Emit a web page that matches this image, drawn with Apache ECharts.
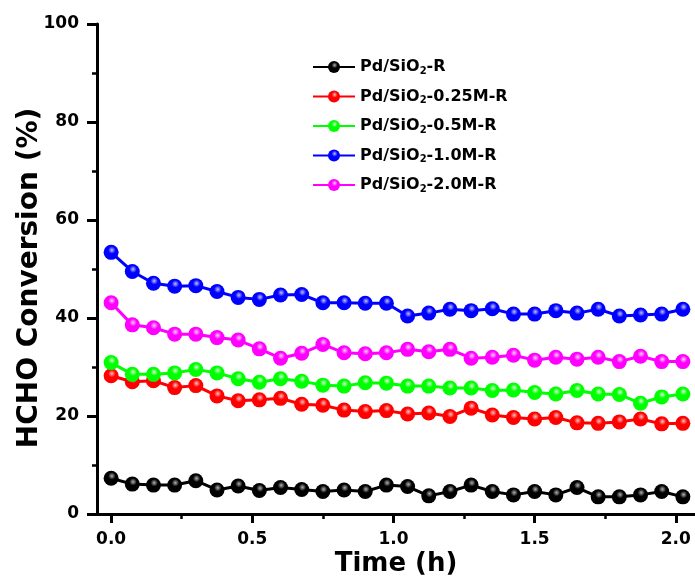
<!DOCTYPE html>
<html>
<head>
<meta charset="utf-8">
<script src="https://cdn.jsdelivr.net/npm/echarts@6/dist/echarts.min.js"></script>
<style>
  html, body { margin: 0; padding: 0; background: #fff; }
  #chart { width: 695px; height: 586px; }
</style>
</head>
<body>
<div id="chart"></div>
<script>
var timeH = [0, 0.075, 0.15, 0.225, 0.3, 0.375, 0.45, 0.525, 0.6, 0.675, 0.75, 0.825, 0.9, 0.975,
             1.05, 1.125, 1.2, 1.275, 1.35, 1.425, 1.5, 1.575, 1.65, 1.725, 1.8, 1.875, 1.95, 2.025];

var seriesNames = ['Pd/SiO2-R', 'Pd/SiO2-0.25M-R', 'Pd/SiO2-0.5M-R', 'Pd/SiO2-1.0M-R', 'Pd/SiO2-2.0M-R'];

var convR = [7.3, 6.1, 5.9, 5.9, 6.8, 4.9, 5.7, 4.8, 5.4, 5.0, 4.6, 4.9, 4.6, 5.9,
             5.6, 3.7, 4.6, 5.9, 4.6, 3.9, 4.6, 3.9, 5.4, 3.5, 3.5, 3.9, 4.6, 3.5];
var conv025 = [28.2, 27.0, 27.2, 25.8, 26.2, 24.1, 23.1, 23.3, 23.6, 22.4, 22.2, 21.2, 20.9, 21.1,
               20.4, 20.6, 19.9, 21.6, 20.2, 19.7, 19.4, 19.7, 18.6, 18.5, 18.8, 19.4, 18.4, 18.5];
var conv05 = [30.9, 28.5, 28.5, 28.8, 29.5, 28.8, 27.6, 26.9, 27.6, 27.1, 26.3, 26.1, 26.8, 26.7,
              26.1, 26.1, 25.7, 25.7, 25.2, 25.3, 24.8, 24.5, 25.2, 24.5, 24.4, 22.6, 23.9, 24.5];
var conv10 = [53.4, 49.5, 47.1, 46.5, 46.6, 45.4, 44.2, 43.8, 44.7, 44.8, 43.1, 43.1, 43.0, 43.0,
              40.4, 41.0, 41.8, 41.5, 41.9, 40.8, 40.8, 41.5, 41.0, 41.8, 40.4, 40.6, 40.8, 41.8];
var conv20 = [43.1, 38.6, 38.0, 36.7, 36.7, 36.0, 35.5, 33.7, 31.8, 32.8, 34.6, 32.9, 32.7, 32.9,
              33.6, 33.1, 33.6, 31.8, 32.0, 32.4, 31.4, 32.0, 31.6, 32.0, 31.1, 32.2, 31.1, 31.1];

var xMajorTicks = [0, 0.5, 1.0, 1.5, 2.0];
var xMinorTicks = [0.25, 0.75, 1.25, 1.75];

var colors = [
    ['#000000', '#b0b0b0'],
    ['#ff0000', '#ffc0c0'],
    ['#00ff00', '#d0ffd0'],
    ['#0000ff', '#c0c0ff'],
    ['#ff00ff', '#ffd0ff']
];
var allData = [convR, conv025, conv05, conv10, conv20];

function ball(c) {
    return {
        type: 'radial', x: 0.55, y: 0.35, r: 0.65,
        colorStops: [
            { offset: 0, color: c[1] },
            { offset: 0.38, color: c[0] },
            { offset: 1, color: c[0] }
        ]
    };
}

var chart = echarts.init(document.getElementById('chart'));

var series = seriesNames.map(function (name, k) {
    return {
        name: name,
        type: 'line',
        xAxisIndex: 0,
        data: timeH.map(function (t, i) { return [t, allData[k][i]]; }),
        symbol: 'circle',
        symbolSize: 15,
        lineStyle: { color: colors[k][0], width: 3 },
        itemStyle: { color: ball(colors[k]), borderWidth: 0 },
        z: 2 + k
    };
});

var FONT = 'DejaVu Sans';
var boldFont = { fontFamily: FONT, fontWeight: 'bold', color: '#000' };
var xMin = -0.05, xMax = 2.068;

var option = {
    backgroundColor: '#fff',
    animation: false,
    color: colors.map(function (c) { return c[0]; }),
    grid: { left: 97, right: 0, top: 24, bottom: 72, outerBoundsMode: 'none', containLabel: false },
    legend: {
        orient: 'vertical',
        left: 307,
        top: 54,
        itemWidth: 42,
        itemHeight: 15,
        itemGap: 12.5,
        data: seriesNames,
        formatter: function (n) { return n.replace('SiO2', 'SiO{sub|2}'); },
        textStyle: {
            fontFamily: FONT, fontWeight: 'bold', fontSize: 16, color: '#000',
            rich: {
                sub: { fontFamily: FONT, fontWeight: 'bold', fontSize: 10, color: '#000', padding: [8, 0, 0, 0] }
            }
        }
    },
    xAxis: [{
        type: 'value',
        min: xMin,
        max: xMax,
        name: 'Time (h)',
        nameLocation: 'middle',
        nameGap: 37,
        nameMoveOverlap: false,
        nameTextStyle: Object.assign({ fontSize: 26 }, boldFont),
        axisLine: { lineStyle: { color: '#000', width: 3 } },
        axisTick: { customValues: xMajorTicks, length: 9, lineStyle: { color: '#000', width: 3 } },
        axisLabel: Object.assign({ customValues: xMajorTicks, fontSize: 17, margin: 17,
            formatter: function (v) { return v.toFixed(1); } }, boldFont),
        splitLine: { show: false }
    }, {
        type: 'value',
        min: xMin,
        max: xMax,
        position: 'bottom',
        axisLine: { show: false },
        axisTick: { customValues: xMinorTicks, length: 5, lineStyle: { color: '#000', width: 2.5 } },
        axisLabel: { show: false },
        splitLine: { show: false }
    }],
    yAxis: {
        type: 'value',
        min: 0,
        max: 100,
        interval: 20,
        name: 'HCHO Conversion (%)',
        nameLocation: 'middle',
        nameGap: 53,
        nameMoveOverlap: false,
        nameTextStyle: Object.assign({ fontSize: 28, padding: [0, 18, 0, 0] }, boldFont),
        axisLine: { show: true, onZero: false, lineStyle: { color: '#000', width: 3 } },
        axisTick: { show: true, length: 10, lineStyle: { color: '#000', width: 3 } },
        minorTick: { show: true, splitNumber: 2, length: 5, lineStyle: { color: '#000', width: 2.5 } },
        axisLabel: Object.assign({ fontSize: 17, margin: 18 }, boldFont),
        splitLine: { show: false }
    },
    series: series
};

chart.setOption(option);
</script>
</body>
</html>
